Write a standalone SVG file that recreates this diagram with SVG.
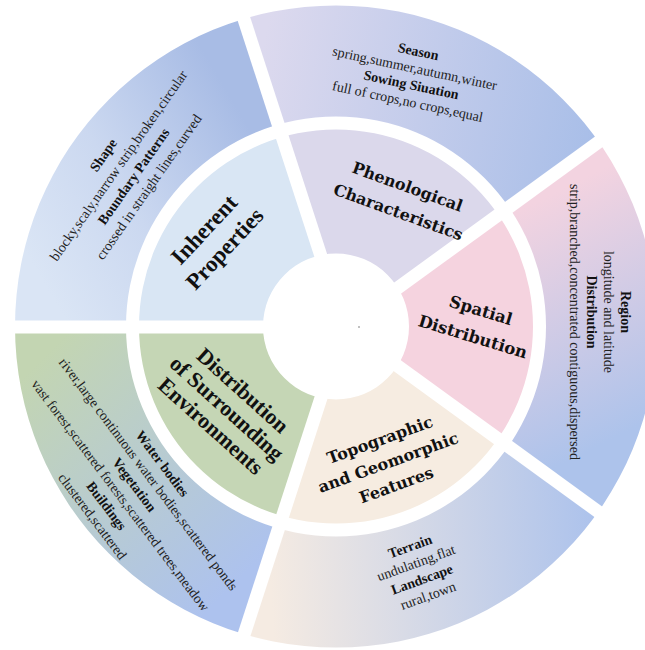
<svg xmlns="http://www.w3.org/2000/svg" width="645" height="650" viewBox="0 0 645 650">
<defs>
<style>
.lbl{font-family:"Liberation Serif","Times New Roman",serif;font-weight:bold;fill:#111;text-anchor:middle}
.lbw{font-family:"DejaVu Serif","Liberation Serif",serif;font-weight:bold;fill:#111;text-anchor:middle}
.ot{font-family:"Liberation Serif","Times New Roman",serif;font-size:14px;fill:#222;text-anchor:middle}
.ot .b{font-weight:bold;fill:#111}
</style>
<clipPath id="cIn"><path clip-rule="evenodd" d="M139 326.5a197 197 0 1 0 394 0a197 197 0 1 0 -394 0ZM263 326.5a73 73 0 1 0 146 0a73 73 0 1 0 -146 0Z"/></clipPath>
<clipPath id="cOut"><path clip-rule="evenodd" d="M15 326.5a321 321 0 1 0 642 0a321 321 0 1 0 -642 0ZM126 326.5a210 210 0 1 0 420 0a210 210 0 1 0 -420 0Z"/></clipPath>
<linearGradient id="gShape" gradientUnits="userSpaceOnUse" x1="30" y1="260" x2="250" y2="130"><stop offset="0" stop-color="#dae5f5"/><stop offset="0.45" stop-color="#cbd8f0"/><stop offset="1" stop-color="#a8bce5"/></linearGradient>
<linearGradient id="gSeason" gradientUnits="userSpaceOnUse" x1="260" y1="60" x2="600" y2="130"><stop offset="0" stop-color="#dcd9ee"/><stop offset="1" stop-color="#a8bee8"/></linearGradient>
<linearGradient id="gRegion" gradientUnits="userSpaceOnUse" x1="540" y1="200" x2="650" y2="420"><stop offset="0" stop-color="#f3d3e0"/><stop offset="1" stop-color="#adc3eb"/></linearGradient>
<linearGradient id="gTerrain" gradientUnits="userSpaceOnUse" x1="270" y1="580" x2="600" y2="560"><stop offset="0" stop-color="#f5ebe2"/><stop offset="1" stop-color="#acc2ec"/></linearGradient>
<linearGradient id="gWater" gradientUnits="userSpaceOnUse" x1="40" y1="360" x2="250" y2="570"><stop offset="0" stop-color="#c3d5b2"/><stop offset="1" stop-color="#adc2ee"/></linearGradient>
</defs>
<rect width="645" height="650" fill="#ffffff"/>

<g id="inherent-properties">
<polygon points="335.05,320.5 -156,320.5 183.3,-146.5" fill="#d9e6f4" clip-path="url(#cIn)"/>
<text class="lbl" font-size="23" transform="translate(214,239) rotate(-47)"><tspan x="0" y="-6">Inherent</tspan><tspan x="0" y="22">Properties</tspan></text>
</g>
<g id="phenological-characteristics">
<polygon points="347.42,316.48 195.7,-150.5 744.7,27.8" fill="#dbd8eb" clip-path="url(#cIn)"/>
<text class="lbw" font-size="16" transform="translate(403,199) rotate(20)"><tspan x="0" y="-7.5">Phenological</tspan><tspan x="0" y="19.5">Characteristics</tspan></text>
</g>
<g id="spatial-distribution">
<polygon points="355.06,327 752.3,38.4 752.3,615.6" fill="#f5d3df" clip-path="url(#cIn)"/>
<text class="lbw" font-size="16.5" transform="translate(477,323) rotate(17)"><tspan x="0" y="-7.5">Spatial</tspan><tspan x="0" y="20">Distribution</tspan></text>
</g>
<g id="topographic-geomorphic">
<polygon points="347.42,337.52 744.7,626.2 195.7,804.5" fill="#f6ece1" clip-path="url(#cIn)"/>
<text class="lbw" font-size="16" transform="translate(388,462) rotate(-20)"><tspan x="0" y="-18">Topographic</tspan><tspan x="0" y="6">and Geomorphic</tspan><tspan x="0" y="30">Features</tspan></text>
</g>
<g id="surrounding-environments">
<polygon points="335.05,333.5 183.3,800.5 -156,333.5" fill="#c5d6b5" clip-path="url(#cIn)"/>
<text class="lbl" font-size="22" transform="translate(227,408) rotate(42)"><tspan x="0" y="-16.3">Distribution</tspan><tspan x="0" y="7.7">of Surrounding</tspan><tspan x="0" y="31.7">Environments</tspan></text>
</g>

<g id="shape-boundary">
<polygon points="335.05,320.5 -156,320.5 183.3,-146.5" fill="url(#gShape)" clip-path="url(#cOut)"/>
<text class="ot" transform="translate(126,171) rotate(-55)"><tspan class="b" x="0" y="-23">Shape</tspan><tspan x="0" y="-4.5">blocky,scaly,narrow strip,broken,circular</tspan><tspan class="b" x="0" y="14">Boundary Patterns</tspan><tspan x="0" y="32.5">crossed in straight lines,curved</tspan></text>
</g>
<g id="season-sowing">
<polygon points="347.42,316.48 195.7,-150.5 744.7,27.8" fill="url(#gSeason)" clip-path="url(#cOut)"/>
<text class="ot" transform="translate(413,76.5) rotate(12)"><tspan class="b" x="0" y="-20.8">Season</tspan><tspan x="0" y="-3.8">spring,summer,autumn,winter</tspan><tspan class="b" x="0" y="13.2">Sowing Siuation</tspan><tspan x="0" y="30.2">full of crops,no crops,equal</tspan></text>
</g>
<g id="region-distribution">
<polygon points="355.06,327 752.3,38.4 752.3,615.6" fill="url(#gRegion)" clip-path="url(#cOut)"/>
<text class="ot" transform="translate(600.5,312) rotate(90)"><tspan class="b" x="0" y="-20.8">Region</tspan><tspan x="0" y="-3.8">longitude and latitude</tspan><tspan class="b" x="0" y="13.2">Distribution</tspan><tspan x="10" y="30.2">strip,branched,concentrated contiguous,dispersed</tspan></text>
</g>
<g id="terrain-landscape">
<polygon points="347.42,337.52 744.7,626.2 195.7,804.5" fill="url(#gTerrain)" clip-path="url(#cOut)"/>
<text class="ot" transform="translate(419,571) rotate(-20)"><tspan class="b" x="0" y="-21.5">Terrain</tspan><tspan x="0" y="-4">undulating,flat</tspan><tspan class="b" x="0" y="13.5">Landscape</tspan><tspan x="0" y="31">rural,town</tspan></text>
</g>
<g id="water-vegetation-buildings">
<polygon points="335.05,333.5 183.3,800.5 -156,333.5" fill="url(#gWater)" clip-path="url(#cOut)"/>
<text class="ot" transform="translate(127.5,490) rotate(53)"><tspan class="b" x="0" y="-39">Water bodies</tspan><tspan x="0" y="-21.5">river,large continuous water bodies,scattered ponds</tspan><tspan class="b" x="0" y="-4">Vegetation</tspan><tspan x="0" y="13.5">vast forest,scattered forests,scattered trees,meadow</tspan><tspan class="b" x="0" y="31">Buildings</tspan><tspan x="0" y="48.5">clustered,scattered</tspan></text>
</g>
<g id="connectors"></g>
<circle cx="359" cy="327" r="0.7" fill="#555"/>
</svg>
